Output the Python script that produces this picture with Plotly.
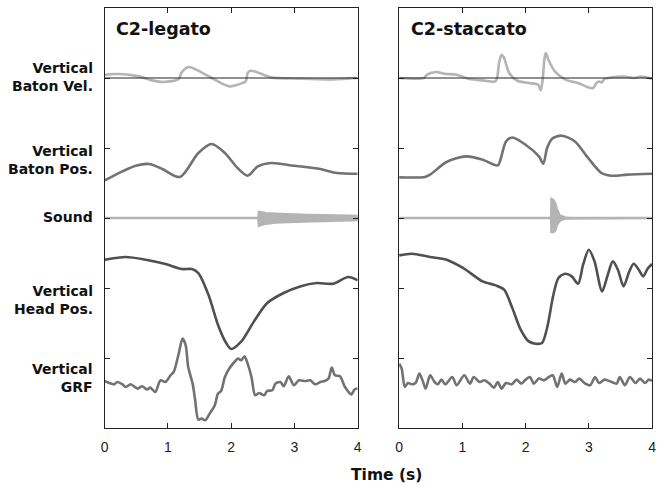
import plotly.graph_objects as go

# ---------------- C2-legato ----------------
leg_vel_t = [0.0, 0.02, 0.23, 0.54, 0.75, 0.93, 1.17, 1.21, 1.27, 1.33, 1.40, 1.48, 1.69, 1.97,
             2.16, 2.23, 2.26, 2.30, 2.42, 2.63, 3.09, 3.56, 3.98, 4.0]
leg_vel = [0.04, 0.047, 0.057, 0.023, -0.034, -0.057, -0.014, 0.071, 0.133, 0.157, 0.14, 0.104,
           0.0, -0.12, -0.077, -0.049, 0.071, 0.104, 0.08, 0.009, -0.01, -0.02, 0.0, 0.0]

leg_pos_t = [0.0, 0.28, 0.49, 0.70, 0.91, 1.19, 1.48, 1.69, 1.90, 2.10, 2.26, 2.42, 2.63, 2.99,
             3.41, 3.67, 4.0]
leg_pos = [-0.463, -0.334, -0.253, -0.229, -0.300, -0.414, -0.071, 0.057, -0.071, -0.286, -0.396,
           -0.263, -0.214, -0.253, -0.300, -0.357, -0.367]

leg_snd_t = [0.0, 2.43, 2.44, 2.47, 2.55, 2.70, 2.89, 3.20, 3.51, 3.80, 4.0]
leg_snd_hi = [0.0, 0.0, 0.085, 0.08, 0.068, 0.060, 0.050, 0.043, 0.038, 0.032, 0.028]
leg_snd_lo = [0.0, 0.0, -0.11, -0.10, -0.08, -0.065, -0.055, -0.045, -0.038, -0.032, -0.028]

leg_head_t = [0.0, 0.33, 0.65, 0.96, 1.22, 1.38, 1.48, 1.64, 1.79, 1.92, 2.00, 2.16, 2.36, 2.57,
              2.83, 3.09, 3.35, 3.61, 3.85, 4.0]
leg_head = [0.404, 0.443, 0.404, 0.343, 0.271, 0.271, 0.214, -0.096, -0.524, -0.786, -0.871,
            -0.763, -0.477, -0.214, -0.071, 0.023, 0.071, 0.061, 0.157, 0.11]

leg_grf_t = [0.0, 0.07, 0.15, 0.20, 0.28, 0.33, 0.41, 0.52, 0.59, 0.67, 0.72, 0.80, 0.88, 0.96,
             1.04, 1.09, 1.17, 1.23, 1.28, 1.32, 1.39, 1.43, 1.48, 1.53, 1.59, 1.66, 1.74, 1.79,
             1.84, 1.90, 1.97, 2.05, 2.11, 2.16, 2.21, 2.26, 2.32, 2.38, 2.44, 2.52, 2.57, 2.65,
             2.70, 2.78, 2.83, 2.91, 2.99, 3.07, 3.17, 3.25, 3.33, 3.41, 3.48, 3.54, 3.59, 3.64,
             3.72, 3.80, 3.90, 3.95, 4.0]
leg_grf = [-0.329, -0.357, -0.376, -0.343, -0.376, -0.414, -0.376, -0.437, -0.404, -0.451,
           -0.423, -0.486, -0.319, -0.343, -0.247, -0.200, 0.063, 0.277, 0.181, -0.129, -0.366,
           -0.604, -0.880, -0.866, -0.890, -0.794, -0.676, -0.509, -0.471, -0.271, -0.151,
           -0.057, -0.009, -0.033, 0.024, -0.080, -0.271, -0.533, -0.500, -0.533, -0.471,
           -0.461, -0.366, -0.343, -0.404, -0.261, -0.390, -0.319, -0.329, -0.319, -0.376,
           -0.343, -0.329, -0.294, -0.137, -0.247, -0.261, -0.414, -0.519, -0.451, -0.437]

# ---------------- C2-staccato ----------------
sta_vel_t = [0.0, 0.39, 0.44, 0.59, 0.72, 0.91, 1.11, 1.32, 1.52, 1.55, 1.58, 1.62, 1.66, 1.74,
             1.87, 2.05, 2.20, 2.24, 2.27, 2.30, 2.32, 2.36, 2.47, 2.63, 2.83, 2.99, 3.07, 3.12,
             3.16, 3.20, 3.25, 3.41, 3.56, 3.72, 3.82, 4.0]
sta_vel = [0.0, 0.0, 0.047, 0.086, 0.061, 0.047, -0.014, -0.034, -0.049, 0.0, 0.214, 0.333,
           0.286, 0.071, -0.039, -0.071, -0.096, -0.177, -0.024, 0.286, 0.357, 0.26, 0.086,
           -0.024, -0.071, -0.134, -0.143, -0.071, -0.049, -0.063, -0.014, 0.014, 0.019, 0.0,
           0.019, -0.01]

sta_pos_t = [0.0, 0.41, 0.49, 0.75, 1.06, 1.32, 1.56, 1.61, 1.69, 1.79, 2.00, 2.21, 2.28, 2.34,
             2.42, 2.57, 2.78, 2.99, 3.20, 3.35, 3.61, 4.0]
sta_pos = [-0.419, -0.413, -0.381, -0.200, -0.120, -0.167, -0.248, -0.143, 0.094, 0.151, 0.047,
           -0.120, -0.224, 0.0, 0.133, 0.176, 0.094, -0.143, -0.357, -0.396, -0.381, -0.367]

sta_snd_t = [0.0, 2.405, 2.41, 2.44, 2.47, 2.49, 2.54, 2.62, 2.70, 4.0]
sta_snd_hi = [0.0, 0.0, 0.27, 0.255, 0.20, 0.13, 0.035, 0.008, 0.0, 0.0]
sta_snd_lo = [0.0, 0.0, -0.20, -0.20, -0.175, -0.105, -0.035, -0.008, 0.0, 0.0]

sta_head_t = [0.0, 0.20, 0.49, 0.75, 1.01, 1.32, 1.53, 1.66, 1.79, 1.92, 2.05, 2.16, 2.26, 2.34,
              2.44, 2.52, 2.63, 2.73, 2.83, 2.91, 3.00, 3.09, 3.21, 3.30, 3.38, 3.46, 3.55,
              3.64, 3.71, 3.79, 3.86, 3.93, 4.0]
sta_head = [0.466, 0.49, 0.443, 0.404, 0.286, 0.094, 0.037, -0.024, -0.286, -0.590, -0.763,
            -0.796, -0.786, -0.571, -0.096, 0.143, 0.204, 0.166, 0.061, 0.333, 0.547, 0.380,
            -0.049, 0.190, 0.380, 0.261, 0.023, 0.237, 0.347, 0.261, 0.166, 0.276, 0.343]

sta_grf_t = [0.0, 0.04, 0.09, 0.14, 0.20, 0.26, 0.32, 0.37, 0.42, 0.49, 0.56, 0.61, 0.67, 0.73,
             0.84, 0.91, 1.03, 1.12, 1.18, 1.27, 1.35, 1.43, 1.50, 1.56, 1.62, 1.69, 1.78, 1.86,
             1.93, 2.00, 2.07, 2.13, 2.21, 2.29, 2.37, 2.43, 2.50, 2.57, 2.63, 2.70, 2.78, 2.85,
             2.93, 3.02, 3.10, 3.16, 3.25, 3.36, 3.44, 3.49, 3.57, 3.65, 3.74, 3.81, 3.89, 3.95,
             4.0]
sta_grf = [-0.080, -0.151, -0.414, -0.357, -0.376, -0.357, -0.223, -0.319, -0.437, -0.247,
           -0.343, -0.376, -0.309, -0.376, -0.271, -0.390, -0.247, -0.366, -0.271, -0.343,
           -0.319, -0.366, -0.423, -0.343, -0.437, -0.357, -0.376, -0.309, -0.366, -0.309,
           -0.271, -0.366, -0.294, -0.319, -0.271, -0.247, -0.414, -0.223, -0.366, -0.309,
           -0.343, -0.294, -0.357, -0.390, -0.271, -0.357, -0.309, -0.343, -0.366, -0.271,
           -0.390, -0.271, -0.357, -0.294, -0.357, -0.309, -0.329]

panel_titles = ["C2-legato", "C2-staccato"]
x_ticks = [0, 1, 2, 3, 4]
lane_labels = ["Vertical<br>Baton Vel.", "Vertical<br>Baton Pos.", "Sound",
               "Vertical<br>Head Pos.", "Vertical<br>GRF"]

# lane baselines on the stacked y axis
LANE = {"vel": 5, "pos": 4, "snd": 3, "head": 2, "grf": 1}
# vertical centre of each lane label, in the same axis units
LABEL_Y = [5.02, 3.83, 3.01, 1.83, 0.71]

LIGHT = "#b4b4b4"
MID = "#727272"
DARK = "#505050"
LW = 2.6

fig = go.Figure()


def add_lane(t, v, lane, color, xa, ya):
    fig.add_trace(go.Scatter(
        x=t, y=[LANE[lane] + s for s in v], mode="lines",
        line=dict(color=color, width=LW, shape="spline", smoothing=0.8),
        xaxis=xa, yaxis=ya, hoverinfo="skip", showlegend=False))


def add_sound(t, hi, lo, xa, ya):
    xs = list(t) + list(t)[::-1]
    ys = [LANE["snd"] + s for s in hi] + [LANE["snd"] + s for s in lo][::-1]
    fig.add_trace(go.Scatter(
        x=xs, y=ys, mode="lines", fill="toself", fillcolor=LIGHT,
        line=dict(color=LIGHT, width=LW), xaxis=xa, yaxis=ya,
        hoverinfo="skip", showlegend=False))


panels = [
    ("x", "y", leg_vel_t, leg_vel, leg_pos_t, leg_pos, leg_snd_t, leg_snd_hi, leg_snd_lo,
     leg_head_t, leg_head, leg_grf_t, leg_grf),
    ("x2", "y2", sta_vel_t, sta_vel, sta_pos_t, sta_pos, sta_snd_t, sta_snd_hi, sta_snd_lo,
     sta_head_t, sta_head, sta_grf_t, sta_grf),
]

for (xa, ya, vt, vv, pt, pv, st, shi, slo, ht, hv, gt, gv) in panels:
    add_sound(st, shi, slo, xa, ya)
    add_lane(vt, vv, "vel", LIGHT, xa, ya)
    add_lane(pt, pv, "pos", MID, xa, ya)
    add_lane(ht, hv, "head", DARK, xa, ya)
    add_lane(gt, gv, "grf", MID, xa, ya)
    # zero line of the velocity lane
    fig.add_shape(type="line", x0=0, x1=4, y0=LANE["vel"], y1=LANE["vel"],
                  xref=xa, yref=ya, line=dict(color="#222222", width=1), layer="above")

W, H = 659, 486
left_dom = [102 / W, 358 / W]
right_dom = [400 / W, 656 / W]
y_dom = [1 - 428 / H, 1 - 8 / H]

xcommon = dict(range=[0, 4], tickvals=x_ticks, ticktext=[str(v) for v in x_ticks],
               ticks="inside", ticklen=5, tickwidth=1, tickcolor="#222",
               showline=True, linecolor="#222", linewidth=1.2, mirror="ticks",
               showgrid=False, zeroline=False, ticklabelstandoff=6,
               tickfont=dict(family="Liberation Sans, Arial, sans-serif", size=14, color="#222"))
ycommon = dict(range=[0, 6], tickvals=[1, 2, 3, 4, 5], showticklabels=False,
               ticks="inside", ticklen=5, tickwidth=1, tickcolor="#222",
               showline=True, linecolor="#222", linewidth=1.2, mirror="ticks",
               showgrid=False, zeroline=False, domain=y_dom)

fig.update_layout(
    width=W, height=H, margin=dict(l=0, r=0, t=0, b=0),
    paper_bgcolor="white", plot_bgcolor="white",
    xaxis=dict(domain=left_dom, anchor="y", **xcommon),
    yaxis=dict(anchor="x", **ycommon),
    xaxis2=dict(domain=right_dom, anchor="y2", **xcommon),
    yaxis2=dict(anchor="x2", **ycommon),
)

BOLD = "DejaVu Sans, sans-serif"

# panel titles
for xr, yr, title in [("x", "y", panel_titles[0]), ("x2", "y2", panel_titles[1])]:
    fig.add_annotation(text=f"<b>{title}</b>", xref=xr, yref=yr, x=0.15, y=5.7,
                       xanchor="left", yanchor="middle", showarrow=False,
                       font=dict(family=BOLD, size=17.5, color="#111"))

# lane labels
for txt, yv in zip(lane_labels, LABEL_Y):
    fig.add_annotation(text=f"<b>{txt}</b>", xref="paper", yref="y", x=92 / W, y=yv,
                       xanchor="right", yanchor="middle", align="right", showarrow=False,
                       font=dict(family=BOLD, size=14, color="#111"))

fig.add_annotation(text="<b>Time (s)</b>", xref="paper", yref="paper", x=387 / W,
                   y=1 - 475 / H, xanchor="center", yanchor="middle", showarrow=False,
                   font=dict(family=BOLD, size=15.5, color="#111"))

fig.write_html("out.html")
